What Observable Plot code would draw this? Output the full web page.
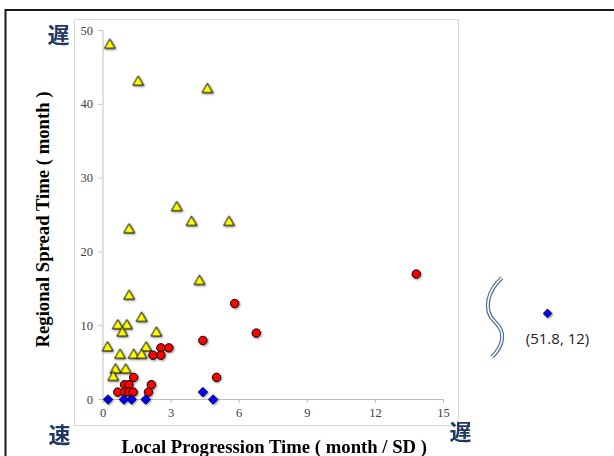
<!DOCTYPE html>
<html>
<head>
<meta charset="utf-8">
<script src="https://cdn.jsdelivr.net/npm/d3@7"></script>
<script src="https://cdn.jsdelivr.net/npm/@observablehq/plot@0.6"></script>
<style>
  html, body { margin: 0; padding: 0; background: #fff; }
</style>
</head>
<body>
<div id="chart"></div>
<script>
// ---- data ----
const triX = [0.3, 1.55, 4.6, 3.25, 1.15, 3.9, 5.55, 4.25, 1.15, 1.7, 0.65, 1.05, 0.85, 2.35, 0.2, 1.9, 0.75, 1.35, 1.7, 0.55, 1.0, 0.45];
const triY = [48, 43, 42, 26, 23, 24, 24, 16, 14, 11, 10, 10, 9, 9, 7, 7, 6, 6, 6, 4, 4, 3];

const circX = [13.8, 5.8, 6.75, 4.4, 2.2, 2.55, 2.55, 2.9, 5.0, 1.35, 0.95, 1.14, 2.13, 0.65, 0.95, 1.14, 1.33, 2.0];
const circY = [17, 13, 9, 8, 6, 7, 6, 7, 3, 3, 2, 2, 2, 1, 1, 1, 1, 1];

const diaX = [0.22, 0.92, 1.26, 1.88, 4.4, 4.85];
const diaY = [0, 0, 0, 0, 1, 0];

const outlierX = [51.8];
const outlierY = [12];
const outlierLabel = ["(51.8, 12)"];

const xTicks = [0, 3, 6, 9, 12, 15];
const yTicks = [0, 10, 20, 30, 40, 50];

const xTitle = "Local Progression Time ( month / SD )";
const yTitle = "Regional Spread Time ( month )";
const slowLabel = "遅";
const fastLabel = "速";

// ---- build tables ----
const tri = triX.map((x, i) => ({x, y: triY[i]}));
const circ = circX.map((x, i) => ({x, y: circY[i]}));
const dia = diaX.map((x, i) => ({x, y: diaY[i]}));
const outlier = outlierX.map((x, i) => ({x, y: outlierY[i], label: outlierLabel[i]}));

const serif = "'Liberation Serif', 'Times New Roman', serif";
const cjk = "'Noto Sans CJK JP', 'Noto Sans CJK SC', sans-serif";
const navy = "#1f3864";
const axisGray = "#bfbfbf";
const tickText = "#404040";

const chart = Plot.plot({
  width: 614,
  height: 456,
  marginLeft: 102.5,
  marginRight: 171,
  marginTop: 30,
  marginBottom: 57,
  style: {fontFamily: serif, background: "#fff", overflow: "visible", color: tickText},
  x: {type: "linear", domain: [0, 15, 51.8], range: [102.5, 443, 547], label: null},
  y: {domain: [0, 50], label: null},
  marks: [
    // outer black border
    Plot.frame({stroke: "#1a1a1a", strokeWidth: 2, insetLeft: -97.5, insetTop: -20.5, insetRight: -200, insetBottom: -100}),
    // plot-area light frame
    Plot.frame({stroke: "#d9d9d9", strokeWidth: 1, insetLeft: -28.5, insetRight: -15, insetTop: -11, insetBottom: -26}),
    // axis lines
    Plot.ruleX([0], {y1: 0, y2: 50, stroke: axisGray}),
    Plot.ruleY([0], {x1: 0, x2: 15, stroke: axisGray}),
    Plot.axisY({ticks: yTicks, tickSize: 4, tickPadding: 6, color: tickText, fontSize: 12.5, label: null}),
    Plot.axisX({ticks: xTicks, tickSize: 4, tickPadding: 5, color: tickText, fontSize: 12.5, label: null}),
    // series
    Plot.dot(tri, {x: "x", y: "y", symbol: "triangle", r: 4.0, fill: "#ffff00", stroke: "#000", strokeWidth: 1}),
    Plot.dot(circ, {x: "x", y: "y", symbol: "circle", r: 4.2, fill: "#ff0000", stroke: "#000", strokeWidth: 1}),
    Plot.dot(dia, {x: "x", y: "y", symbol: "diamond2", r: 4.3, fill: "#0000ff", stroke: "#000", strokeWidth: 0.8}),
    Plot.dot(outlier, {x: "x", y: "y", symbol: "diamond2", r: 3.9, fill: "#0000ff", stroke: "#000", strokeWidth: 0.8, dy: 2.5}),
    Plot.text(outlier, {x: "x", y: "y", text: "label", dx: 10, dy: 28.5, fontFamily: "'Open Sans', sans-serif", fontSize: 15, fill: "#222", textAnchor: "middle", lineAnchor: "middle"}),
    // axis titles
    Plot.text([xTitle], {frameAnchor: "bottom", dx: 1, dy: 53, lineAnchor: "bottom", textAnchor: "middle", fontWeight: "bold", fontSize: 18.7, fill: "#000", fontFamily: serif}),
    Plot.text([yTitle], {frameAnchor: "left", rotate: -90, dx: -54, dy: 4.5, lineAnchor: "bottom", textAnchor: "middle", fontWeight: "bold", fontSize: 18.7, fill: "#000", fontFamily: serif}),
    // slow / fast markers
    Plot.text([slowLabel], {frameAnchor: "top-left", dx: -44.5, dy: 5, textAnchor: "middle", lineAnchor: "middle", fontSize: 22, fontWeight: "bold", fill: navy, fontFamily: cjk}),
    Plot.text([fastLabel], {frameAnchor: "bottom-left", dx: -43.5, dy: 36, textAnchor: "middle", lineAnchor: "middle", fontSize: 22, fontWeight: "bold", fill: navy, fontFamily: cjk}),
    Plot.text([slowLabel], {frameAnchor: "bottom-right", dx: 17, dy: 33, textAnchor: "middle", lineAnchor: "middle", fontSize: 22, fontWeight: "bold", fill: navy, fontFamily: cjk})
  ]
});

// light gray tick marks, dark gray tick labels
d3.select(chart).selectAll('g[aria-label="y-axis tick"], g[aria-label="x-axis tick"]').attr("stroke", axisGray);
d3.select(chart).selectAll('g[aria-label="y-axis tick label"], g[aria-label="x-axis tick label"]').attr("fill", tickText);

// drop shadows on the markers
d3.select(chart).selectAll('g[aria-label="dot"]')
  .style("filter", "drop-shadow(1.5px 1.5px 1px rgba(0,0,0,0.45))");

// axis-break symbol (double wavy line) placed between the axis end and the outlier
const sx = chart.scale("x"), sy = chart.scale("y");
const cx = (sx.apply(15) + sx.apply(51.8)) / 2;
const cy = sy.apply(outlierY[0]) + 7;
const wave = `M${cx + 7},${cy - 39.5} C${cx - 7},${cy - 27.5} ${cx - 13},${cy - 7.5} ${cx},${cy + 4.5} C${cx + 11},${cy + 14.5} ${cx + 9},${cy + 27.5} ${cx - 3},${cy + 39.5}`;
const g = d3.select(chart).append("g").attr("fill", "none");
g.append("path").attr("d", wave).attr("stroke", "#4a6a9c").attr("stroke-width", 4);
g.append("path").attr("d", wave).attr("stroke", "#fff").attr("stroke-width", 1.6);

document.getElementById("chart").append(chart);
</script>
</body>
</html>
